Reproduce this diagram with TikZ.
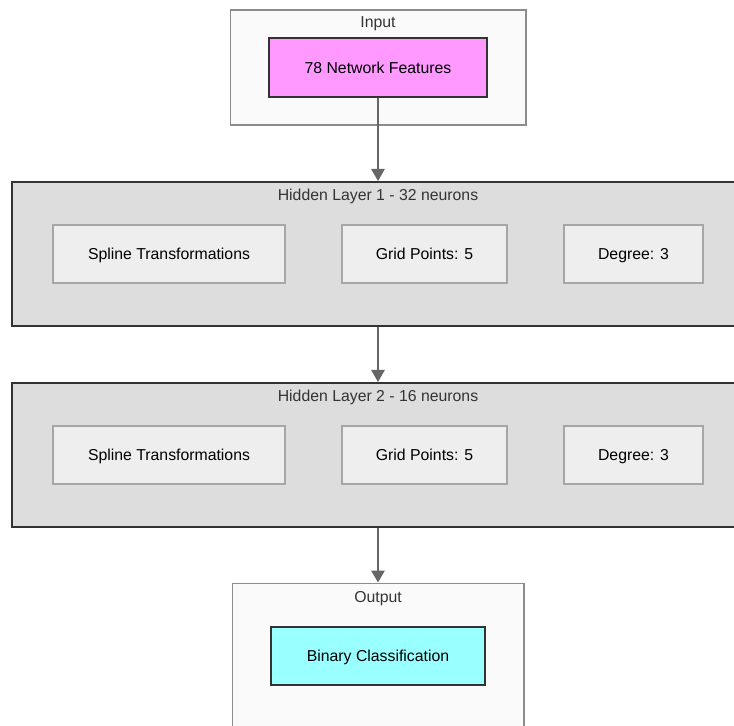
\documentclass[tikz,border=0pt]{standalone}
\usepackage{fontspec}
\setmainfont{Liberation Sans}
\usetikzlibrary{arrows.meta}

\definecolor{featpink}{HTML}{FF99FF}
\definecolor{outcyan}{HTML}{99FFFF}
\definecolor{layergray}{HTML}{DDDDDD}
\definecolor{boxgray}{HTML}{EEEEEE}
\definecolor{clusterbg}{HTML}{FAFAFA}
\definecolor{edgegray}{HTML}{666666}
\definecolor{textgray}{HTML}{333333}

\tikzset{
  cluster/.style={rectangle, draw=black!45, fill=clusterbg, line width=0.6pt},
  layer/.style={rectangle, draw=textgray, fill=layergray, line width=1.2pt, minimum width=14.64cm, minimum height=2.88cm},
  io/.style={rectangle, draw=textgray, line width=1.2pt, minimum height=1.18cm},
  part/.style={rectangle, draw=black!35, fill=boxgray, line width=0.8pt, minimum height=1.16cm},
  title/.style={text=textgray}
}

\begin{document}
\begin{tikzpicture}[x=0.02cm, y=-0.02cm, font=\fontsize{9}{11}\selectfont]
		\fill[white] (0,0) rectangle (734,725);
		\clip (0,0) rectangle (734,725);

		\begin{scope}[every node/.style={inner sep=0pt, text height=1.6ex, text depth=0.4ex}]
			\node[cluster, minimum width=5.92cm, minimum height=2.3cm] (input) at (378,67.5) {};
			\node[layer] (hid1) at (378,254) {};
			\node[layer] (hid2) at (378,455) {};
			\node[cluster, minimum width=5.84cm, minimum height=3.14cm] (output) at (378,661.5) {};

			\node[title] (inlbl) at (378,21.5) {Input};
			\node[title] (h1lbl) at (378,194.5) {Hidden Layer 1 - 32 neurons};
			\node[title] (h2lbl) at (378,395.5) {Hidden Layer 2 - 16 neurons};
			\node[title] (outlbl) at (378,596.5) {Output};

			\node[io, fill=featpink, minimum width=4.36cm] (feat) at (378,67.5) {78 Network Features};
			\node[io, fill=outcyan, minimum width=4.28cm, minimum height=1.16cm] (binary) at (378,656) {Binary Classification};

			\node[part, minimum width=4.64cm] (spline1) at (169,254) {Spline Transformations};
			\node[part, minimum width=3.3cm] (grid1) at (424.5,254) {Grid Points: 5};
			\node[part, minimum width=2.78cm] (degree1) at (633.5,254) {Degree: 3};

			\node[part, minimum width=4.64cm] (spline2) at (169,455) {Spline Transformations};
			\node[part, minimum width=3.3cm] (grid2) at (424.5,455) {Grid Points: 5};
			\node[part, minimum width=2.78cm] (degree2) at (633.5,455) {Degree: 3};
		\end{scope}

		\begin{scope}[every edge/.style={draw=edgegray, line width=0.7pt}]
			\path [-{Triangle[length=0.24cm, width=0.27cm]}] (feat) edge (hid1);
			\path [-{Triangle[length=0.24cm, width=0.27cm]}] (hid1) edge (hid2);
			\path [-{Triangle[length=0.24cm, width=0.27cm]}] (hid2) edge (output);
		\end{scope}

	\end{tikzpicture}
\end{document}
